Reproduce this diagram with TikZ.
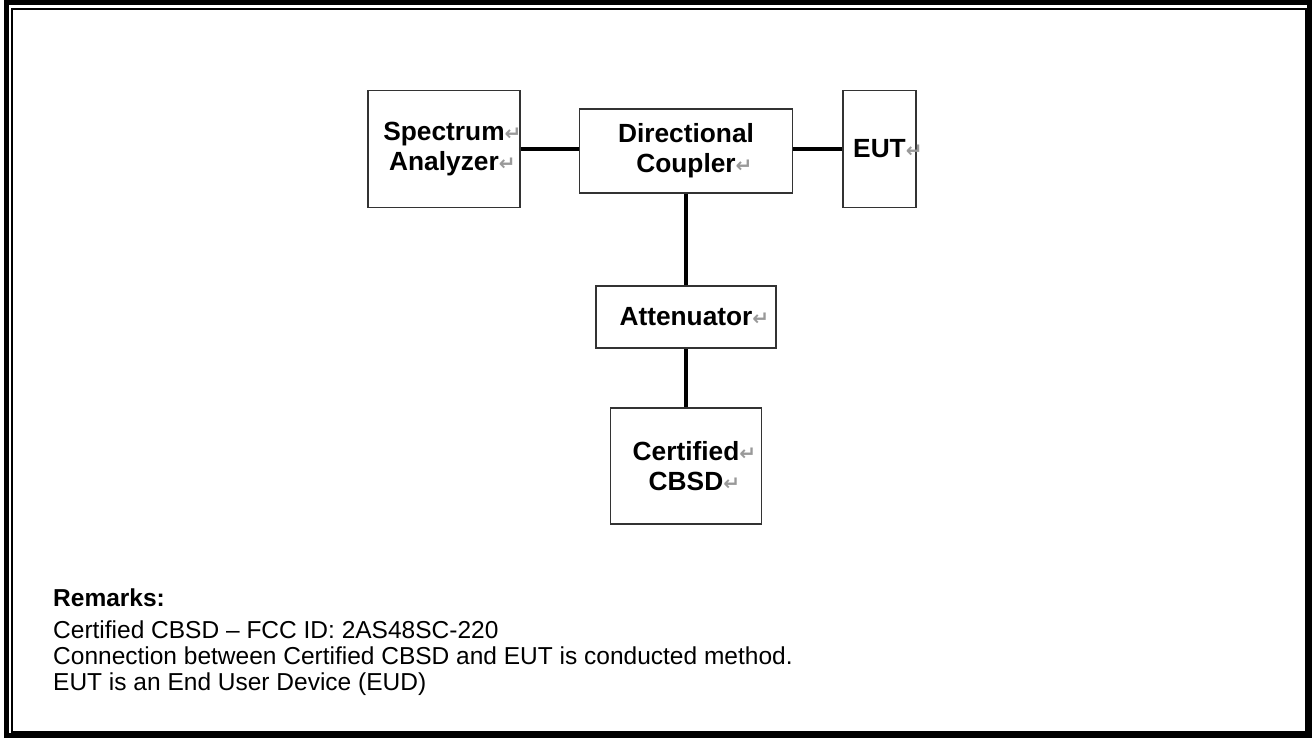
\documentclass[tikz,border=0pt]{standalone}
\usepackage{fontspec}
\setmainfont{Liberation Sans}
\newfontfamily\retfont{DejaVu Sans}
\newcommand{\retsign}{\rlap{\retfont\color{black!40}\fontsize{20}{20}\selectfont ↵}}
\begin{document}
\begin{tikzpicture}[x=1pt,y=-1pt,
    box/.style={draw=black!80, line width=1.5pt, inner sep=0pt, align=center,
        font=\bfseries\fontsize{26.3}{30}\selectfont},
    link/.style={line width=4pt}]
\useasboundingbox (0,0) rectangle (1312,738);

% Frame
\draw[line width=5pt] (6,3) rectangle (1309,735);
\draw[line width=2pt] (12,9) rectangle (1306,732);

% Boxes
\node[box, minimum width=152pt, minimum height=117pt] (sa) at (444,149) {Spectrum\retsign\\Analyzer\retsign};
\node[box, minimum width=213pt, minimum height=84pt] (dc) at (686,151) {Directional\\Coupler\retsign};
\node[box, minimum width=73pt, minimum height=117pt] (eut) at (879.5,149) {EUT\retsign};
\node[box, minimum width=180pt, minimum height=62pt] (att) at (686,317) {Attenuator\retsign};
\node[box, minimum width=151pt, minimum height=116pt] (cbsd) at (686,466) {Certified\retsign\\CBSD\retsign};

% Links
\draw[link] (sa.east |- 0,149) -- (dc.west |- 0,149);
\draw[link] (dc.east |- 0,149) -- (eut.west |- 0,149);
\draw[link] (dc) -- (att);
\draw[link] (att) -- (cbsd);

% Remarks (base = last line)
\node[anchor=base west, inner sep=0pt, align=left, font=\fontsize{24.5}{26}\selectfont] (remarks) at (53,690)
    {\textbf{Remarks:}\\[6pt]
     Certified CBSD -- FCC ID: 2AS48SC-220\\
     Connection between Certified CBSD and EUT is conducted method.\\
     EUT is an End User Device (EUD)};
\end{tikzpicture}
\end{document}
